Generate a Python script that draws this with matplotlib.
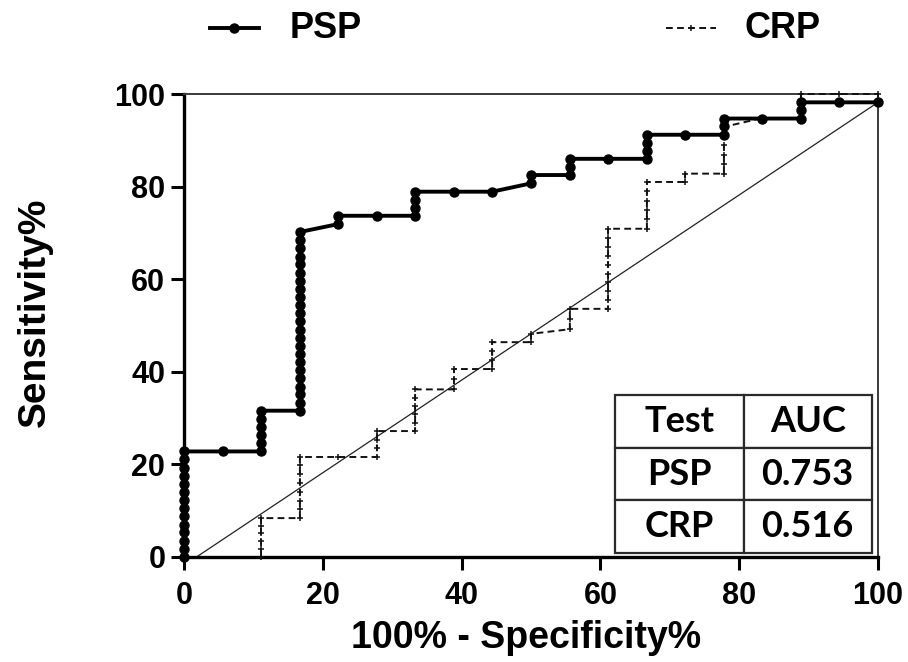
import matplotlib
matplotlib.use("Agg")
import matplotlib.pyplot as plt
from matplotlib.lines import Line2D

# ---------------- data ----------------
psp_x = [0, 0, 0, 0, 0, 0, 0, 0, 0, 0, 0, 0, 0, 0,
         5.6, 11.1, 11.1, 11.1, 11.1, 11.1, 11.1,
         16.7, 16.7, 16.7, 16.7, 16.7, 16.7, 16.7, 16.7, 16.7, 16.7, 16.7, 16.7,
         16.7, 16.7, 16.7, 16.7, 16.7, 16.7, 16.7, 16.7, 16.7, 16.7, 16.7,
         22.2, 22.2, 27.8, 33.3, 33.3, 33.3, 33.3, 38.9, 44.4,
         50.0, 50.0, 55.6, 55.6, 55.6, 61.1, 66.7, 66.7, 66.7, 66.7,
         72.2, 77.8, 77.8, 77.8, 83.3, 88.9, 88.9, 88.9, 94.4, 100]
psp_y = [0, 1.8, 3.5, 5.3, 7.0, 8.8, 10.5, 12.3, 14.0, 15.8, 17.5, 19.3, 21.1, 22.8,
         22.8, 22.8, 24.6, 26.3, 28.1, 29.8, 31.6,
         31.6, 33.3, 35.1, 36.8, 38.6, 40.4, 42.1, 43.9, 45.6, 47.4, 49.1, 50.9,
         52.6, 54.4, 56.1, 57.9, 59.6, 61.4, 63.2, 64.9, 66.7, 68.4, 70.2,
         71.9, 73.7, 73.7, 73.7, 75.4, 77.2, 78.9, 78.9, 78.9,
         80.7, 82.5, 82.5, 84.2, 86.0, 86.0, 86.0, 87.7, 89.5, 91.2,
         91.2, 91.2, 93.0, 94.7, 94.7, 94.7, 96.5, 98.2, 98.2, 98.2]

crp_x = [11.1, 11.1, 11.1, 11.1, 11.1, 11.1,
         16.7, 16.7, 16.7, 16.7, 16.7, 16.7, 16.7, 16.7,
         22.2, 27.8, 27.8, 27.8, 27.8,
         33.3, 33.3, 33.3, 33.3, 33.3, 33.3,
         38.9, 38.9, 38.9,
         44.4, 44.4, 44.4, 44.4,
         50.0, 50.0,
         55.6, 55.6, 55.6,
         61.1, 61.1, 61.1, 61.1, 61.1, 61.1, 61.1, 61.1, 61.1, 61.1,
         66.7, 66.7, 66.7, 66.7, 66.7, 66.7,
         72.2, 72.2,
         77.8, 77.8, 77.8, 77.8, 77.8, 77.8,
         83.3, 88.9, 88.9, 88.9, 88.9,
         94.4, 100]
crp_y = [0, 1.7, 3.4, 5.1, 6.8, 8.4,
         8.4, 10.3, 12.2, 14.1, 16.0, 17.9, 19.8, 21.6,
         21.6, 21.6, 23.5, 25.3, 27.2,
         27.2, 29.0, 30.8, 32.6, 34.4, 36.2,
         36.2, 38.4, 40.6,
         40.6, 42.5, 44.4, 46.4,
         46.4, 48.2,
         49.2, 51.4, 53.6,
         53.6, 55.5, 57.4, 59.3, 61.2, 63.1, 65.0, 66.9, 68.9, 70.9,
         70.9, 72.9, 74.9, 76.9, 79.0, 81.0,
         81.0, 82.8,
         82.8, 84.8, 86.8, 88.9, 90.9, 92.9,
         94.8, 94.8, 96.5, 98.3, 100,
         100, 100]

diag_x = [1.8, 100]
diag_y = [0, 98.2]

xticks = [0, 20, 40, 60, 80, 100]
yticks = [0, 20, 40, 60, 80, 100]

table_header = ["Test", "AUC"]
table_tests = ["PSP", "CRP"]
table_auc = ["0.753", "0.516"]

# ---------------- figure ----------------
W, H = 908, 662
fig = plt.figure(figsize=(W / 100, H / 100), dpi=100)
ax = fig.add_axes([184 / W, 1 - 557 / H, (878 - 184) / W, (557 - 94) / H])

AX_FONT = "Liberation Sans"

ax.plot(diag_x, diag_y, color="#222222", lw=0.9, clip_on=False, zorder=2)
ax.plot(crp_x, crp_y, color="#111111", lw=1.4, ls=(0, (3.5, 2.2)),
        marker="+", ms=4.5, mew=1.1, clip_on=False, zorder=3)
ax.plot(psp_x, psp_y, color="black", lw=2.8, marker="o", ms=6.5,
        clip_on=False, zorder=4)

ax.set_xlim(0, 100)
ax.set_ylim(0, 100)
ax.set_xticks(xticks)
ax.set_yticks(yticks)
ax.set_xticklabels([str(t) for t in xticks], fontfamily=AX_FONT,
                   fontweight="bold", fontsize=22)
ax.set_yticklabels([str(t) for t in yticks], fontfamily=AX_FONT,
                   fontweight="bold", fontsize=22)
ax.tick_params(axis="both", direction="out", length=9.5, width=2.2, color="black")
ax.tick_params(axis="x", pad=8)
ax.tick_params(axis="y", pad=4)

for s in ["left", "bottom"]:
    ax.spines[s].set_linewidth(2.4)
    ax.spines[s].set_color("black")
for s in ["top", "right"]:
    ax.spines[s].set_linewidth(1.4)
    ax.spines[s].set_color("#3a3a3a")

fig.text(35 / W, 1 - 312 / H, "Sensitivity%", rotation=90, ha="center",
         va="center", fontfamily=AX_FONT, fontweight="bold", fontsize=28)
fig.text(526 / W, 1 - 638 / H, "100% - Specificity%", ha="center",
         va="center", fontfamily=AX_FONT, fontweight="bold", fontsize=27)

# legend (manual, at top)
ly = 1 - 28 / H
fig.add_artist(Line2D([210 / W, 259 / W], [ly, ly], color="black", lw=2.8,
                      transform=fig.transFigure))
fig.add_artist(Line2D([234.5 / W], [ly], color="black", marker="o", ms=6.5,
                      transform=fig.transFigure))
fig.text(290 / W, ly, "PSP", ha="left", va="center", fontfamily=AX_FONT,
         fontweight="bold", fontsize=26)
fig.add_artist(Line2D([666 / W, 716 / W], [ly, ly], color="#111111", lw=1.4,
                      ls=(0, (3.5, 2.2)), transform=fig.transFigure))
fig.add_artist(Line2D([691 / W], [ly], color="#111111", marker="+", ms=4.5,
                      mew=1.1, transform=fig.transFigure))
fig.text(744 / W, ly, "CRP", ha="left", va="center", fontfamily=AX_FONT,
         fontweight="bold", fontsize=26)

# AUC table
cell_text = [table_header] + [[t, a] for t, a in zip(table_tests, table_auc)]
ax_w = 878 - 184
ax_h = 557 - 94
bbox = [(615 - 184) / ax_w, (557 - 553) / ax_h, (872 - 615) / ax_w, (553 - 395) / ax_h]
tab = ax.table(cellText=cell_text, cellLoc="center", bbox=bbox, zorder=6)
tab.auto_set_font_size(False)
for (r, c), cell in tab.get_celld().items():
    cell.set_edgecolor("#2a2a2a")
    cell.set_linewidth(1.6)
    cell.set_facecolor("white")
    cell.get_text().set_fontfamily("Lato")
    cell.get_text().set_fontweight("bold")
    cell.get_text().set_fontsize(26)

fig.savefig("out.png", dpi=100)
